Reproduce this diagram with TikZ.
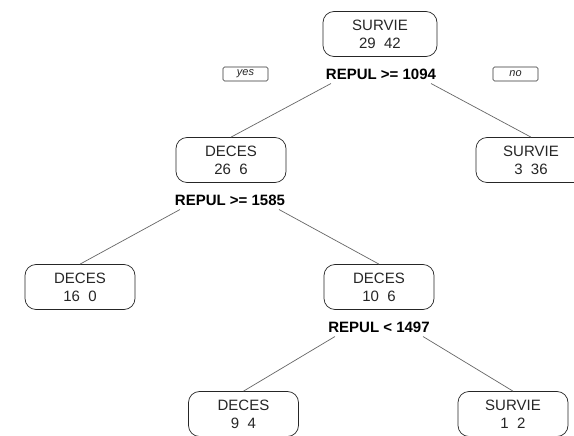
\documentclass[tikz,border=0pt]{standalone}
\usepackage{fontspec}
\setmainfont{Liberation Sans}
\begin{document}
\begin{tikzpicture}[x=1pt,y=-1pt,
  leaf/.style={draw=black!85, line width=0.7pt, rounded corners=11pt, minimum width=110pt, minimum height=45pt,
    align=center, font=\fontsize{15}{18}\selectfont, text=black!85, inner sep=0pt},
  split/.style={font=\fontsize{15}{18}\selectfont\bfseries, text=black, inner sep=1pt},
  yn/.style={draw=black!80, line width=0.6pt, rounded corners=1.5pt, minimum width=45pt, minimum height=14pt,
    inner sep=0pt, font=\fontsize{11}{12}\selectfont\itshape, text=black!85},
  edge/.style={draw=black!60, line width=0.7pt}]
\clip (0,0) rectangle (574,436);
\fill[white] (0,0) rectangle (574,436);

\node[leaf, minimum width=114pt] (n1) at (380,34) {SURVIE\\29\ \ 42};
\node[split] (s1) at (381,74) {REPUL >= 1094};
\node[yn] (yes) at (245.5,74) {yes};
\node[yn] (no) at (515.5,74) {no};

\node[leaf] (n2) at (231,160) {DECES\\26\ \ 6};
\node[leaf] (n3) at (531,160) {SURVIE\\3\ \ 36};
\node[split] (s2) at (230,200) {REPUL >= 1585};

\node[leaf] (n4) at (80,287) {DECES\\16\ \ 0};
\node[leaf] (n5) at (379,287) {DECES\\10\ \ 6};
\node[split] (s5) at (379,327) {REPUL < 1497};

\node[leaf] (n10) at (243.5,414) {DECES\\9\ \ 4};
\node[leaf] (n11) at (513,414) {SURVIE\\1\ \ 2};

\draw[edge] ([xshift=-50pt,yshift=-3pt]s1.south) -- (n2.north);
\draw[edge] ([xshift=50pt,yshift=-3pt]s1.south) -- (n3.north);
\draw[edge] ([xshift=-50pt,yshift=-3pt]s2.south) -- (n4.north);
\draw[edge] ([xshift=49pt,yshift=-3pt]s2.south) -- (n5.north);
\draw[edge] ([xshift=-44pt,yshift=-3pt]s5.south) -- (n10.north);
\draw[edge] ([xshift=44pt,yshift=-3pt]s5.south) -- (n11.north);
\end{tikzpicture}
\end{document}
